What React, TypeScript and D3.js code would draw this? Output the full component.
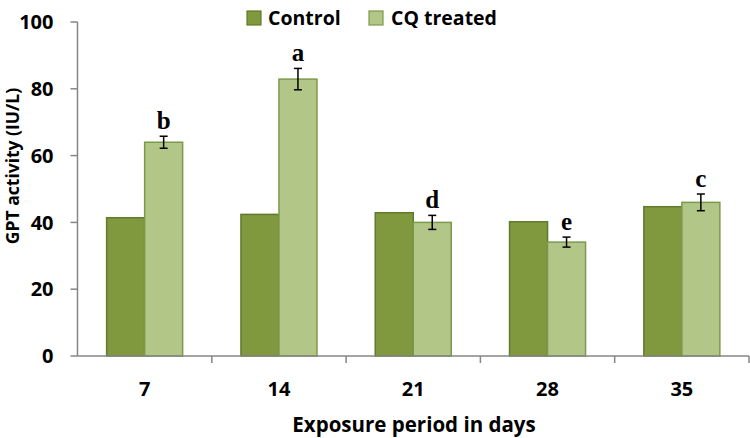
import React from "react";
import * as d3 from "d3";

const categories = ["7", "14", "21", "28", "35"];
const controlValues = [41.4, 42.4, 42.9, 40.2, 44.7];
const treatedValues = [64.0, 82.9, 40.0, 34.1, 46.0];
const treatedErrors = [1.8, 3.2, 2.1, 1.5, 2.5];
const sigLetters = ["b", "a", "d", "e", "c"];
const yTicks = [0, 20, 40, 60, 80, 100];
const seriesNames = ["Control", "CQ treated"];

const W = 750;
const H = 438;
const left = 77.5;
const right = 749;
const top = 22;
const bottom = 356;

const font = "'Open Sans', Lato, sans-serif";

export default function App() {
  const x = d3.scaleBand<string>().domain(categories).range([left, right]).padding(0);
  const y = d3.scaleLinear().domain([0, 100]).range([bottom, top]);
  const barW = 38;
  const axisColor = "#868686";
  const cCol = "#80993f";
  const cStroke = "#617a2c";
  const tCol = "#b2c688";
  const tStroke = "#7b9a4a";

  return (
    <svg width={W} height={H} style={{ position: "absolute", left: 0, top: 0, background: "#fff" }}>
      {categories.map((c, i) => {
        const cx = x(c)! + x.bandwidth() / 2;
        return (
          <g key={c}>
            <rect x={cx - barW} y={y(controlValues[i])} width={barW} height={bottom - y(controlValues[i])}
              fill={cCol} stroke={cStroke} strokeWidth={1.5} />
            <rect x={cx} y={y(treatedValues[i])} width={barW} height={bottom - y(treatedValues[i])}
              fill={tCol} stroke={tStroke} strokeWidth={1.5} />
          </g>
        );
      })}
      {categories.map((c, i) => {
        const ex = x(c)! + x.bandwidth() / 2 + barW / 2;
        const y1 = y(treatedValues[i] + treatedErrors[i]);
        const y0 = y(treatedValues[i] - treatedErrors[i]);
        return (
          <g key={"e" + c}>
            <line x1={ex} x2={ex} y1={y1} y2={y0} stroke="#000" strokeWidth={1.5} />
            <line x1={ex - 4} x2={ex + 4} y1={y1} y2={y1} stroke="#000" strokeWidth={1.5} />
            <line x1={ex - 4} x2={ex + 4} y1={y0} y2={y0} stroke="#000" strokeWidth={1.5} />
            <text x={ex} y={y1 - 7} textAnchor="middle" fontFamily="'Liberation Serif', 'DejaVu Serif', serif"
              fontWeight="bold" fontSize={25} fill="#000">{sigLetters[i]}</text>
          </g>
        );
      })}
      <line x1={left} x2={left} y1={top} y2={bottom} stroke={axisColor} strokeWidth={1.5} />
      {yTicks.map((t) => (
        <g key={"y" + t}>
          <line x1={left - 7} x2={left} y1={y(t)} y2={y(t)} stroke={axisColor} strokeWidth={1.5} />
          <text x={left - 24} y={y(t)} dy="0.36em" textAnchor="end" fontFamily={font} fontWeight="bold"
            fontSize={20} fill="#000">{t}</text>
        </g>
      ))}
      <line x1={left} x2={right} y1={bottom} y2={bottom} stroke={axisColor} strokeWidth={1.5} />
      {categories.map((c) => (
        <line key={"xt" + c} x1={x(c)! + x.bandwidth()} x2={x(c)! + x.bandwidth()} y1={bottom} y2={bottom + 7}
          stroke={axisColor} strokeWidth={1.5} />
      ))}
      {categories.map((c) => (
        <text key={"xl" + c} x={x(c)! + x.bandwidth() / 2} y={396} textAnchor="middle" fontFamily={font}
          fontWeight="bold" fontSize={20} fill="#000">{c}</text>
      ))}
      <text x={414} y={432} textAnchor="middle" fontFamily={font} fontWeight="bold" fontSize={20.5} fill="#000">
        Exposure period in days
      </text>
      <text transform={`translate(19, 166) rotate(-90)`} textAnchor="middle" fontFamily={font} fontWeight="bold"
        fontSize={17.5} fill="#000">GPT activity (IU/L)</text>
      <rect x={247} y={11} width={14} height={14} fill={cCol} stroke={cStroke} strokeWidth={1.2} />
      <text x={268} y={25} fontFamily={font} fontWeight="bold" fontSize={19.5} fill="#000">{seriesNames[0]}</text>
      <rect x={369} y={11} width={14} height={14} fill={tCol} stroke={tStroke} strokeWidth={1.2} />
      <text x={391} y={25} fontFamily={font} fontWeight="bold" fontSize={19.5} fill="#000">{seriesNames[1]}</text>
    </svg>
  );
}
